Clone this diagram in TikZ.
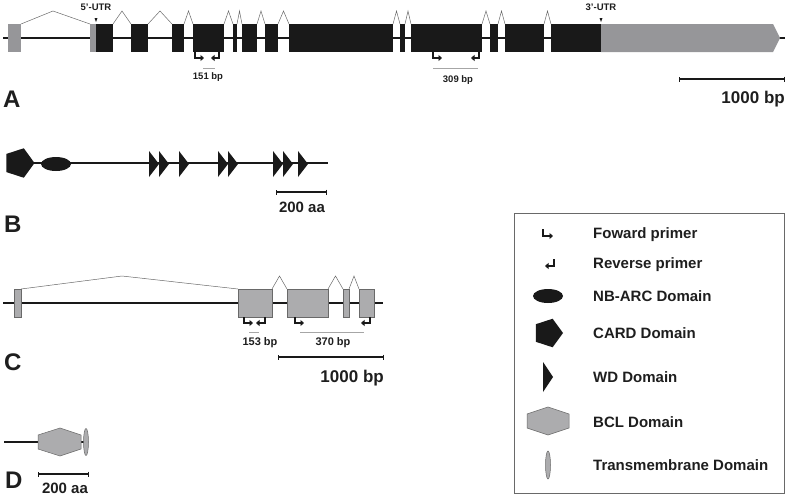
\documentclass[tikz,border=0pt]{standalone}
\usepackage{fontspec}
\setmainfont{Liberation Sans}
\usetikzlibrary{arrows.meta,shapes.geometric}
\definecolor{gsDark}{RGB}{25,25,25}
\definecolor{gsUtr}{RGB}{150,150,153}
\definecolor{gsExon}{RGB}{172,172,174}
\definecolor{gsEdge}{RGB}{105,105,105}
\definecolor{gsText}{RGB}{30,30,30}

\begin{document}
\begin{tikzpicture}[x=1pt,y=-1pt,
  backbone/.style={gsDark, line width=2.2pt},
  exon/.style={fill=gsDark},
  utr/.style={fill=gsUtr},
  cexon/.style={fill=gsExon, draw=gsEdge, line width=0.5pt},
  intron/.style={draw=gsEdge, line width=0.5pt},
  primer/.style={gsDark, line width=2pt, -{Triangle[length=3.5pt,width=6pt]}},
  span/.style={gray!70, line width=0.7pt},
  scalebar/.style={gsDark, line width=2.2pt, {Bar[width=5pt,line width=0.8pt]}-{Bar[width=5pt,line width=0.8pt]}},
  lbl/.style={gsText, font=\bfseries\fontsize{#1}{#1}\selectfont, inner sep=0pt},
  panel/.style={gsText, font=\bfseries\fontsize{24}{24}\selectfont, inner sep=0pt, anchor=base west},
  card/.style={regular polygon, regular polygon sides=5, shape border rotate=-90, fill=gsDark, minimum size=31pt, inner sep=0pt},
  nbarc/.style={ellipse, fill=gsDark, minimum width=30pt, minimum height=14pt, inner sep=0pt},
  bcl/.style={fill=gsExon, draw=gsEdge, line width=0.5pt},
  tm/.style={ellipse, fill=gsExon, draw=gsEdge, line width=0.5pt, minimum width=5pt, minimum height=27pt, inner sep=0pt}]
  \useasboundingbox (0,0) rectangle (790,496);

  % Panel A: gene model
  \draw[backbone] (3,38) -- (785,38);
  \fill[utr] (8,24) rectangle (21,52);
  \fill[utr] (90,24) rectangle (96,52);
  \foreach \a/\b in {96/113,131/148,172/184,193/224,233/237,242/257,265/278,289/393,400/405,411/482,490/498,505/544,551/601}
    \fill[exon] (\a,24) rectangle (\b,52);
  \fill[utr] (601,24) -- (773,24) -- (780,38) -- (773,52) -- (601,52) -- cycle;
  \draw[intron] (21,24) -- (53,11) -- (90,24);
  \foreach \a/\b in {113/131,148/172,184/193,224/233,237/242,257/265,278/289,393/400,405/411,482/490,498/505,544/551}
    \draw[intron] (\a,24) -- ({(\a+\b)/2},11) -- (\b,24);
  \fill[gsDark] (94.5,18) -- (97.5,18) -- (96,22) -- cycle;
  \fill[gsDark] (599.5,18) -- (602.5,18) -- (601,22) -- cycle;
  \node[lbl=9.5] (utrFive) at (96,7) {5'-UTR};
  \node[lbl=9.5] (utrThree) at (601,7) {3'-UTR};
  % primers
  \draw[primer] (195,52) -- (195,58) -- (204,58);
  \draw[primer] (219,52) -- (219,58) -- (211,58);
  \draw[span] (203,68) -- (215,68);
  \node[lbl=9.5, anchor=base] (bpA1) at (208,79) {151 bp};
  \draw[primer] (433,52) -- (433,58) -- (442,58);
  \draw[primer] (479,52) -- (479,58) -- (471,58);
  \draw[span] (433,68) -- (478,68);
  \node[lbl=9.5, anchor=base] (bpA2) at (458,82) {309 bp};
  % scale
  \coordinate (sbA1) at (679,79);
  \coordinate (sbA2) at (785,79);
  \draw[scalebar] (sbA1) -- (sbA2);
  \node[lbl=17, anchor=base east] (scaleA) at (785,103) {1000 bp};
  \node[panel] (labA) at (3,107) {A};

  % Panel B: protein domains
  \draw[backbone] (20,163) -- (328,163);
  \node[card] (cardB) at (19,163) {};
  \node[nbarc] (nbarcB) at (56,164) {};
  \foreach \x in {149,159,179,218,228,273,283,298}
    \fill[gsDark] (\x,151) -- (\x+10,164) -- (\x,177) -- cycle;
  \coordinate (sbB1) at (276,192);
  \coordinate (sbB2) at (327,192);
  \draw[scalebar] (sbB1) -- (sbB2);
  \node[lbl=15, anchor=base] (scaleB) at (302,212) {200 aa};
  \node[panel] (labB) at (4,232) {B};

  % Panel C: gene model
  \draw[backbone] (3,303) -- (383,303);
  \foreach \a/\b in {14/21,238/272,287/328,343/349,359/374}
    \draw[cexon] (\a,289) rectangle (\b,317);
  \draw[intron] (21,289) -- (122,276) -- (238,289);
  \foreach \a/\b in {272/287,328/343,349/359}
    \draw[intron] (\a,289) -- ({(\a+\b)/2},276) -- (\b,289);
  % primers
  \draw[primer] (244,317) -- (244,323) -- (253,323);
  \draw[primer] (265,317) -- (265,323) -- (256,323);
  \draw[span] (249,332) -- (259,332);
  \node[lbl=11, anchor=base] (bpC1) at (260,345) {153 bp};
  \draw[primer] (295,317) -- (295,323) -- (304,323);
  \draw[primer] (370,317) -- (370,323) -- (361,323);
  \draw[span] (300,332) -- (364,332);
  \node[lbl=11, anchor=base] (bpC2) at (333,345) {370 bp};
  \coordinate (sbC1) at (278,357);
  \coordinate (sbC2) at (384,357);
  \draw[scalebar] (sbC1) -- (sbC2);
  \node[lbl=17, anchor=base east] (scaleC) at (384,382) {1000 bp};
  \node[panel] (labC) at (4,370) {C};

  % Panel D: protein domains
  \draw[backbone] (4,442) -- (88,442);
  \draw[bcl] (38,435) -- (60,428) -- (81,435) -- (81,449) -- (60,456) -- (38,449) -- cycle;
  \node[tm] (tmD) at (86,442) {};
  \coordinate (sbD1) at (38,474);
  \coordinate (sbD2) at (89,474);
  \draw[scalebar] (sbD1) -- (sbD2);
  \node[lbl=15, anchor=base] (scaleD) at (65,493) {200 aa};
  \node[panel] (labD) at (5,488) {D};

  % Legend
  \draw[gsEdge, line width=0.7pt] (514,213) rectangle (784,493);
  \draw[primer] (543,229) -- (543,236) -- (553,236);
  \draw[primer] (554,259) -- (554,266) -- (545,266);
  \node[nbarc] (keyNbarc) at (548,296) {};
  \node[card, minimum size=30pt] (keyCard) at (548,333) {};
  \fill[gsDark] (543,362) -- (553,377) -- (543,392) -- cycle;
  \draw[bcl] (527,414) -- (548,407) -- (569,414) -- (569,428) -- (548,435) -- (527,428) -- cycle;
  \node[tm, minimum height=28pt] (keyTm) at (548,465) {};
  \node[lbl=15, anchor=base west] (txtFwd) at (593,238) {Foward primer};
  \node[lbl=15, anchor=base west] (txtRev) at (593,268) {Reverse primer};
  \node[lbl=15, anchor=base west] (txtNbarc) at (593,301) {NB-ARC Domain};
  \node[lbl=15, anchor=base west] (txtCard) at (593,338) {CARD Domain};
  \node[lbl=15, anchor=base west] (txtWd) at (593,382) {WD Domain};
  \node[lbl=15, anchor=base west] (txtBcl) at (593,427) {BCL Domain};
  \node[lbl=15, anchor=base west] (txtTm) at (593,470) {Transmembrane Domain};
\end{tikzpicture}
\end{document}
